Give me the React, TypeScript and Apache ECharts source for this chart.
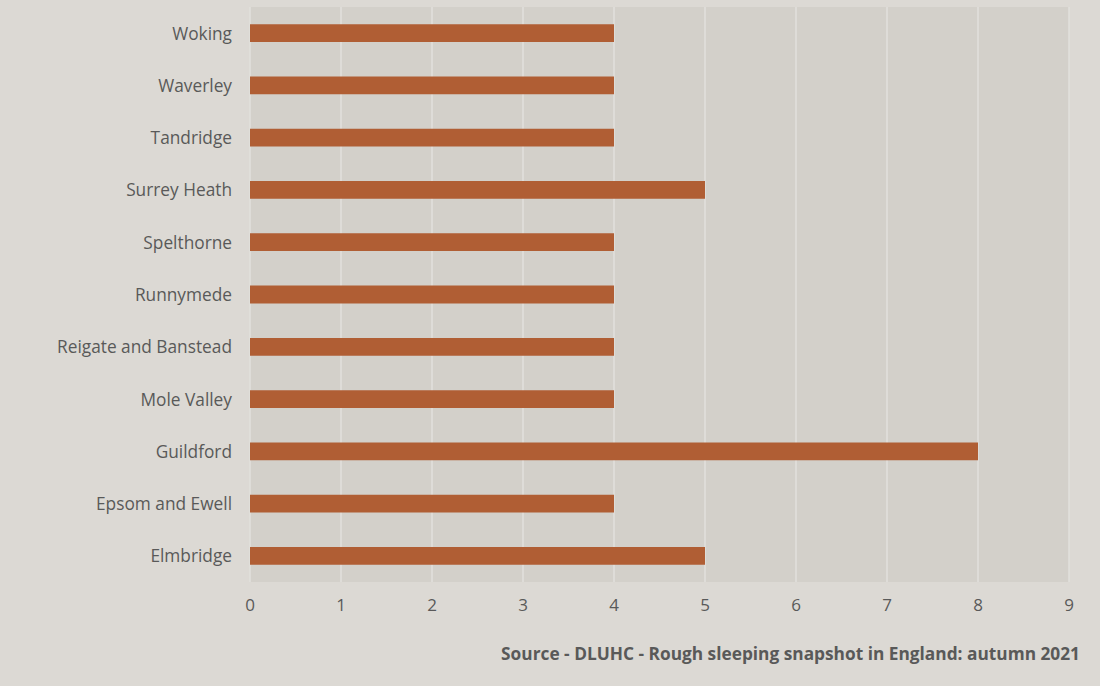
import React, { useEffect, useRef } from "react";
import * as echarts from "echarts";

const categories = [
  "Elmbridge",
  "Epsom and Ewell",
  "Guildford",
  "Mole Valley",
  "Reigate and Banstead",
  "Runnymede",
  "Spelthorne",
  "Surrey Heath",
  "Tandridge",
  "Waverley",
  "Woking",
];
const values = [5, 4, 8, 4, 4, 4, 4, 5, 4, 4, 4];
const sourceText = "Source - DLUHC - Rough sleeping snapshot in England: autumn 2021";

export default function App() {
  const ref = useRef<HTMLDivElement>(null);
  useEffect(() => {
    document.body.style.margin = "0";
    document.body.style.background = "#dcd9d4";
    const chart = echarts.init(ref.current!, null, { renderer: "svg" });
    chart.setOption({
      animation: false,
      backgroundColor: "#dcd9d4",
      textStyle: { fontFamily: "Open Sans" },
      grid: {
        left: 250,
        right: 31,
        top: 7,
        bottom: 104,
        show: true,
        backgroundColor: "#d3d0ca",
        borderWidth: 0,
      },
      xAxis: {
        type: "value",
        min: 0,
        max: 9,
        interval: 1,
        axisLine: { show: false },
        axisTick: { show: false },
        axisLabel: { color: "#595959", fontSize: 17, margin: 14 },
        splitLine: { show: true, lineStyle: { color: "#e2e0dc", width: 1.5 } },
      },
      yAxis: {
        type: "category",
        data: categories,
        axisLine: { show: false },
        axisTick: { show: false },
        axisLabel: { color: "#595959", fontSize: 17.3, margin: 18 },
        splitLine: { show: false },
      },
      series: [
        {
          type: "bar",
          data: values,
          barWidth: "34%",
          itemStyle: { color: "#b05e34" },
        },
      ],
      graphic: [
        {
          type: "text",
          right: 20,
          top: 645,
          style: {
            text: sourceText,
            fill: "#595959",
            font: "bold 17.3px 'Open Sans'",
          },
        },
      ],
    });
    return () => chart.dispose();
  }, []);
  return <div ref={ref} style={{ width: 1100, height: 686 }} />;
}
